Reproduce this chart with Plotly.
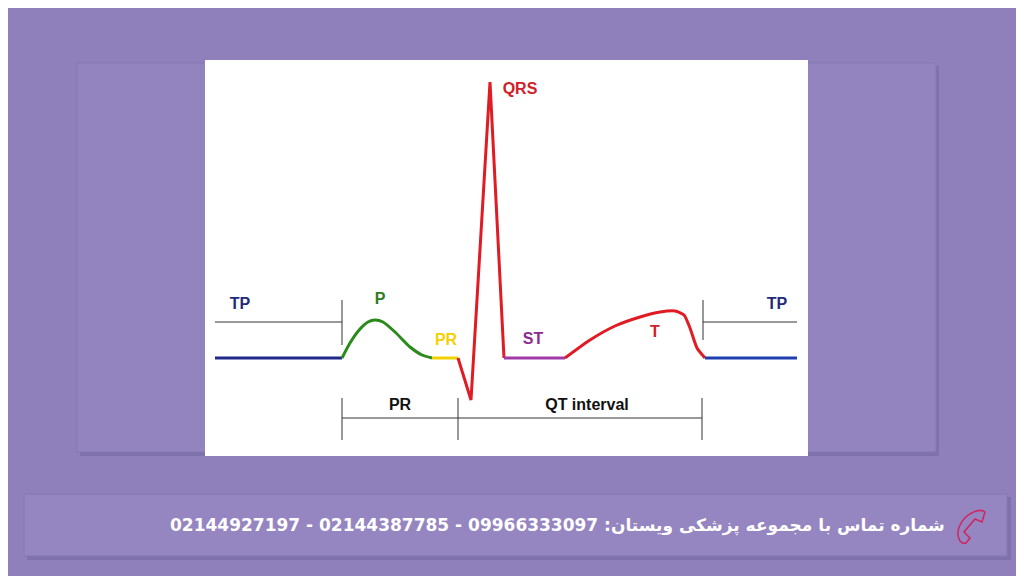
import plotly.graph_objects as go

# ECG waveform segments (pixel-like units on a 1024x576 canvas, y grows down)
tp_left_x = [215, 342]
tp_left_y = [358, 358]
p_wave_x = [342, 350, 360, 368, 375, 383, 395, 410, 422, 432]
p_wave_y = [358, 343, 329, 322, 320, 322, 332, 347, 355, 358]
pr_seg_x = [432, 458]
pr_seg_y = [358, 358]
qrs_x = [458, 471, 490, 504]
qrs_y = [358, 400, 82, 358]
st_seg_x = [504, 565]
st_seg_y = [358, 358]
t_wave_x = [565, 590, 615, 640, 660, 675, 684, 690, 697, 705]
t_wave_y = [358, 340, 326, 317, 312, 311, 315, 328, 348, 358]
tp_right_x = [705, 797]
tp_right_y = [358, 358]

labels = ["TP", "P", "PR", "QRS", "ST", "T", "TP", "PR", "QT interval"]
label_x = [240, 380, 446, 520, 533, 655, 777, 400, 587]
label_y = [305, 300, 341, 90, 340, 333, 305, 406, 406]
label_colors = ["#1f2a7a", "#2e7d1f", "#f5d000", "#d0202a", "#8e2b8e",
                "#d0202a", "#1f2a7a", "#111111", "#111111"]

contact = "شماره تماس با مجموعه پزشکی ویستان: 09966333097 - 02144387785 - 02144927197"

fig = go.Figure()

# backgrounds
fig.add_shape(type="rect", x0=80, y0=66, x1=939, y1=456, fillcolor="#6f6299",
              line_width=0, layer="below", opacity=0.5)
fig.add_shape(type="rect", x0=77, y0=63, x1=936, y1=452, fillcolor="#9384bf",
              line=dict(color="#8578b0", width=1), layer="below")
fig.add_shape(type="rect", x0=205, y0=60, x1=808, y1=456, fillcolor="white",
              line_width=0, layer="below")
fig.add_shape(type="rect", x0=27, y0=497, x1=1011, y1=560, fillcolor="#6f6299",
              line_width=0, layer="below", opacity=0.5)
fig.add_shape(type="rect", x0=24, y0=494, x1=1007, y1=556, fillcolor="#9585c0",
              line=dict(color="#8578b0", width=1), layer="below")

segments = [
    (tp_left_x, tp_left_y, "#1f2a8a"),
    (p_wave_x, p_wave_y, "#2a8a1a"),
    (pr_seg_x, pr_seg_y, "#f5d000"),
    (qrs_x, qrs_y, "#e01b24"),
    (st_seg_x, st_seg_y, "#a03aa8"),
    (t_wave_x, t_wave_y, "#e01b24"),
    (tp_right_x, tp_right_y, "#1f3fb0"),
]
for xs, ys, c in segments:
    shape = "spline" if len(xs) > 4 else "linear"
    fig.add_trace(go.Scatter(x=xs, y=ys, mode="lines", hoverinfo="skip",
                             line=dict(color=c, width=3, shape=shape, smoothing=0.6)))

# interval brackets
grey = "#333333"
for x0, x1, y in [(215, 342, 322), (703, 797, 322), (342, 702, 418)]:
    fig.add_shape(type="line", x0=x0, x1=x1, y0=y, y1=y, line=dict(color=grey, width=1))
for x, y0, y1 in [(342, 300, 345), (703, 300, 340), (342, 398, 440),
                  (458, 398, 440), (702, 398, 440)]:
    fig.add_shape(type="line", x0=x, x1=x, y0=y0, y1=y1, line=dict(color=grey, width=1))

fig.add_trace(go.Scatter(x=label_x, y=label_y, mode="text",
                         text=["<b>" + t + "</b>" for t in labels],
                         hoverinfo="skip",
                         textfont=dict(family="Liberation Sans Narrow, Liberation Sans",
                                       size=16, color=label_colors)))

# phone icon
fig.add_shape(type="path",
              path="M 985,512 C 978,507 965,515 960,525 C 955,535 960,545 966,543 L 970,538 L 964,532 L 975,519 L 982,522 Z",
              line=dict(color="#d0245e", width=1.5), fillcolor="rgba(0,0,0,0)")

fig.add_annotation(x=947, y=525, xref="x", yref="y", text="<b>" + contact + "</b>",
                   showarrow=False, xanchor="right", yanchor="middle",
                   font=dict(family="DejaVu Sans", size=17, color="white"))

# canvas sits 8px in from the page edge: oversize it and shift the ranges
fig.update_xaxes(range=[8, 1048], visible=False)
fig.update_yaxes(range=[600, 8], visible=False)
fig.update_layout(width=1040, height=592, margin=dict(l=0, r=0, t=0, b=0),
                  paper_bgcolor="#8f80bc", plot_bgcolor="#8f80bc", showlegend=False)

fig.write_html("out.html")
